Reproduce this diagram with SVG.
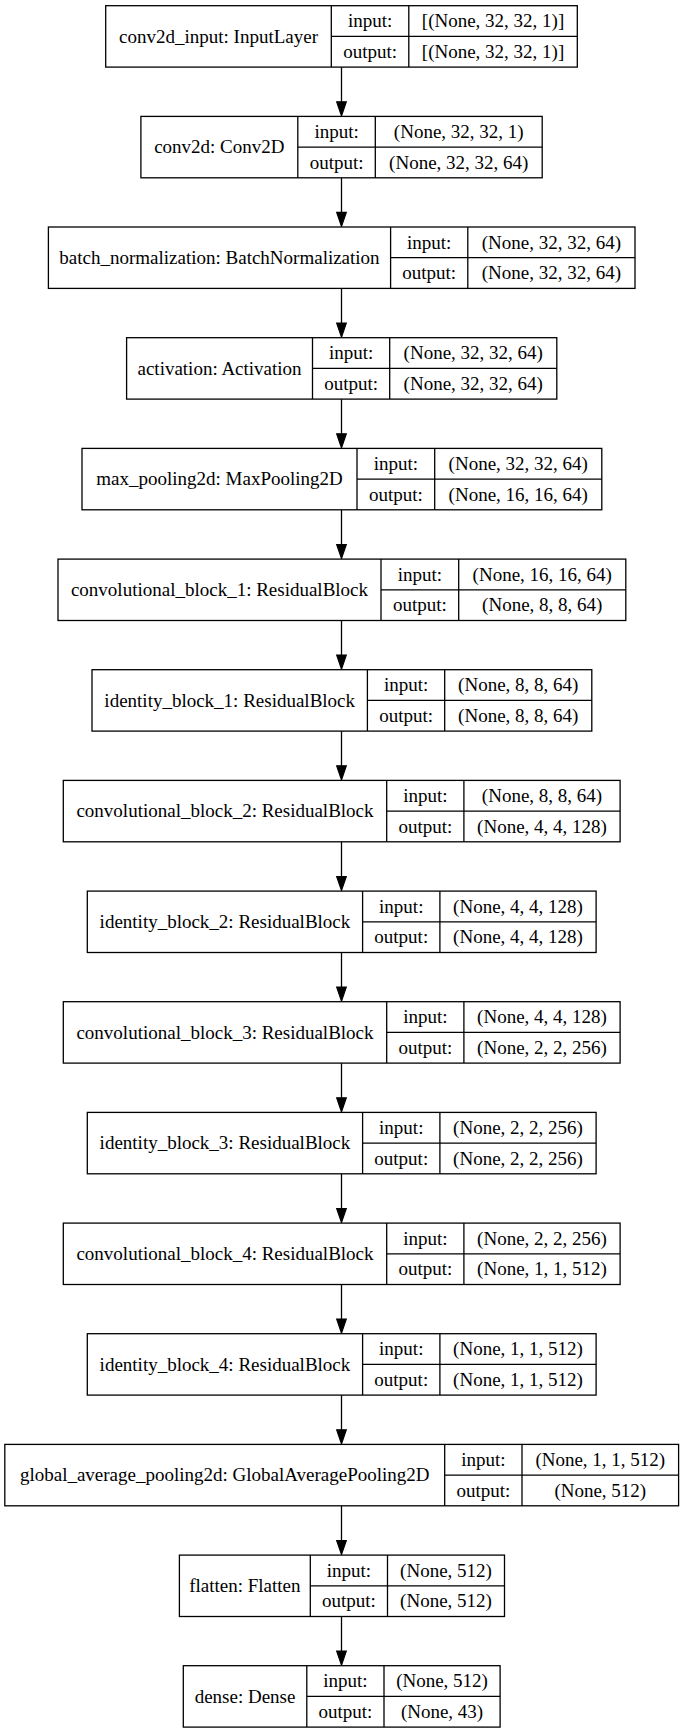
<svg xmlns="http://www.w3.org/2000/svg" width="683" height="1733" viewBox="0 0 683 1733">
<style>
  .box { fill: #ffffff; stroke: #000000; stroke-width: 1.3; }
  .sep { stroke: #000000; stroke-width: 1.3; fill: none; }
  text { font-family: "Liberation Serif", "Times New Roman", serif; font-size: 19px; fill: #000000; text-anchor: middle; }
  .edge { stroke: #000000; stroke-width: 1.3; fill: none; marker-end: url(#arr); }
</style>
<defs>
  <marker id="arr" markerUnits="userSpaceOnUse" markerWidth="16" markerHeight="12" refX="0" refY="4.8" orient="auto" overflow="visible">
    <path d="M0,0 L14,4.8 L0,9.6 Z" fill="#000000" stroke="#000000" stroke-width="1.2"/>
  </marker>
</defs>
<rect width="683" height="1733" fill="#ffffff"/>

<g id="connectors">
  <path class="edge" d="M341.5,67.1 V101.8"/>
  <path class="edge" d="M341.5,177.8 V212.4"/>
  <path class="edge" d="M341.5,288.4 V323.1"/>
  <path class="edge" d="M341.5,399.1 V433.8"/>
  <path class="edge" d="M341.5,509.8 V544.5"/>
  <path class="edge" d="M341.5,620.5 V655.1"/>
  <path class="edge" d="M341.5,731.1 V765.8"/>
  <path class="edge" d="M341.5,841.8 V876.5"/>
  <path class="edge" d="M341.5,952.5 V987.1"/>
  <path class="edge" d="M341.5,1063.1 V1097.8"/>
  <path class="edge" d="M341.5,1173.8 V1208.5"/>
  <path class="edge" d="M341.5,1284.5 V1319.1"/>
  <path class="edge" d="M341.5,1395.1 V1429.8"/>
  <path class="edge" d="M341.5,1505.8 V1540.5"/>
  <path class="edge" d="M341.5,1616.5 V1651.1"/>
</g>

<g id="conv2d_input" transform="translate(0,5.7)">
  <rect class="box" x="105.7" y="0" width="471.6" height="61.4"/>
  <path class="sep" d="M331.3,0 V61.4 M408.8,0 V61.4 M331.3,30.7 H577.3"/>
  <text x="218.5" y="36.9">conv2d_input: InputLayer</text>
  <text x="370.05" y="21.6">input:</text>
  <text x="370.05" y="52.3">output:</text>
  <text x="493.05" y="21.6">[(None, 32, 32, 1)]</text>
  <text x="493.05" y="52.3">[(None, 32, 32, 1)]</text>
</g>

<g id="conv2d" transform="translate(0,116.4)">
  <rect class="box" x="140.9" y="0" width="401.3" height="61.4"/>
  <path class="sep" d="M297.8,0 V61.4 M375.3,0 V61.4 M297.8,30.7 H542.2"/>
  <text x="219.35" y="36.9">conv2d: Conv2D</text>
  <text x="336.55" y="21.6">input:</text>
  <text x="336.55" y="52.3">output:</text>
  <text x="458.75" y="21.6">(None, 32, 32, 1)</text>
  <text x="458.75" y="52.3">(None, 32, 32, 64)</text>
</g>

<g id="batch_normalization" transform="translate(0,227.0)">
  <rect class="box" x="48.4" y="0" width="586.6" height="61.4"/>
  <path class="sep" d="M390.6,0 V61.4 M467.8,0 V61.4 M390.6,30.7 H635"/>
  <text x="219.5" y="36.9">batch_normalization: BatchNormalization</text>
  <text x="429.2" y="21.6">input:</text>
  <text x="429.2" y="52.3">output:</text>
  <text x="551.4" y="21.6">(None, 32, 32, 64)</text>
  <text x="551.4" y="52.3">(None, 32, 32, 64)</text>
</g>

<g id="activation" transform="translate(0,337.7)">
  <rect class="box" x="126.6" y="0" width="430.2" height="61.4"/>
  <path class="sep" d="M312.5,0 V61.4 M389.7,0 V61.4 M312.5,30.7 H556.8"/>
  <text x="219.55" y="36.9">activation: Activation</text>
  <text x="351.1" y="21.6">input:</text>
  <text x="351.1" y="52.3">output:</text>
  <text x="473.25" y="21.6">(None, 32, 32, 64)</text>
  <text x="473.25" y="52.3">(None, 32, 32, 64)</text>
</g>

<g id="max_pooling2d" transform="translate(0,448.4)">
  <rect class="box" x="82" y="0" width="519.8" height="61.4"/>
  <path class="sep" d="M357,0 V61.4 M434.7,0 V61.4 M357,30.7 H601.8"/>
  <text x="219.5" y="36.9">max_pooling2d: MaxPooling2D</text>
  <text x="395.85" y="21.6">input:</text>
  <text x="395.85" y="52.3">output:</text>
  <text x="518.25" y="21.6">(None, 32, 32, 64)</text>
  <text x="518.25" y="52.3">(None, 16, 16, 64)</text>
</g>

<g id="convolutional_block_1" transform="translate(0,559.1)">
  <rect class="box" x="58" y="0" width="567.8" height="61.4"/>
  <path class="sep" d="M381,0 V61.4 M458.7,0 V61.4 M381,30.7 H625.8"/>
  <text x="219.5" y="36.9">convolutional_block_1: ResidualBlock</text>
  <text x="419.85" y="21.6">input:</text>
  <text x="419.85" y="52.3">output:</text>
  <text x="542.25" y="21.6">(None, 16, 16, 64)</text>
  <text x="542.25" y="52.3">(None, 8, 8, 64)</text>
</g>

<g id="identity_block_1" transform="translate(0,669.7)">
  <rect class="box" x="92" y="0" width="499.8" height="61.4"/>
  <path class="sep" d="M367.4,0 V61.4 M444.7,0 V61.4 M367.4,30.7 H591.8"/>
  <text x="229.7" y="36.9">identity_block_1: ResidualBlock</text>
  <text x="406.05" y="21.6">input:</text>
  <text x="406.05" y="52.3">output:</text>
  <text x="518.25" y="21.6">(None, 8, 8, 64)</text>
  <text x="518.25" y="52.3">(None, 8, 8, 64)</text>
</g>

<g id="convolutional_block_2" transform="translate(0,780.4)">
  <rect class="box" x="63.3" y="0" width="556.8" height="61.4"/>
  <path class="sep" d="M386.7,0 V61.4 M463.9,0 V61.4 M386.7,30.7 H620.1"/>
  <text x="225" y="36.9">convolutional_block_2: ResidualBlock</text>
  <text x="425.3" y="21.6">input:</text>
  <text x="425.3" y="52.3">output:</text>
  <text x="542" y="21.6">(None, 8, 8, 64)</text>
  <text x="542" y="52.3">(None, 4, 4, 128)</text>
</g>

<g id="identity_block_2" transform="translate(0,891.1)">
  <rect class="box" x="87.3" y="0" width="508.8" height="61.4"/>
  <path class="sep" d="M362.6,0 V61.4 M439.9,0 V61.4 M362.6,30.7 H596.1"/>
  <text x="224.95" y="36.9">identity_block_2: ResidualBlock</text>
  <text x="401.25" y="21.6">input:</text>
  <text x="401.25" y="52.3">output:</text>
  <text x="518" y="21.6">(None, 4, 4, 128)</text>
  <text x="518" y="52.3">(None, 4, 4, 128)</text>
</g>

<g id="convolutional_block_3" transform="translate(0,1001.7)">
  <rect class="box" x="63.3" y="0" width="556.8" height="61.4"/>
  <path class="sep" d="M386.7,0 V61.4 M463.9,0 V61.4 M386.7,30.7 H620.1"/>
  <text x="225" y="36.9">convolutional_block_3: ResidualBlock</text>
  <text x="425.3" y="21.6">input:</text>
  <text x="425.3" y="52.3">output:</text>
  <text x="542" y="21.6">(None, 4, 4, 128)</text>
  <text x="542" y="52.3">(None, 2, 2, 256)</text>
</g>

<g id="identity_block_3" transform="translate(0,1112.4)">
  <rect class="box" x="87.3" y="0" width="508.8" height="61.4"/>
  <path class="sep" d="M362.6,0 V61.4 M439.9,0 V61.4 M362.6,30.7 H596.1"/>
  <text x="224.95" y="36.9">identity_block_3: ResidualBlock</text>
  <text x="401.25" y="21.6">input:</text>
  <text x="401.25" y="52.3">output:</text>
  <text x="518" y="21.6">(None, 2, 2, 256)</text>
  <text x="518" y="52.3">(None, 2, 2, 256)</text>
</g>

<g id="convolutional_block_4" transform="translate(0,1223.1)">
  <rect class="box" x="63.3" y="0" width="556.8" height="61.4"/>
  <path class="sep" d="M386.7,0 V61.4 M463.9,0 V61.4 M386.7,30.7 H620.1"/>
  <text x="225" y="36.9">convolutional_block_4: ResidualBlock</text>
  <text x="425.3" y="21.6">input:</text>
  <text x="425.3" y="52.3">output:</text>
  <text x="542" y="21.6">(None, 2, 2, 256)</text>
  <text x="542" y="52.3">(None, 1, 1, 512)</text>
</g>

<g id="identity_block_4" transform="translate(0,1333.7)">
  <rect class="box" x="87.3" y="0" width="508.8" height="61.4"/>
  <path class="sep" d="M362.6,0 V61.4 M439.9,0 V61.4 M362.6,30.7 H596.1"/>
  <text x="224.95" y="36.9">identity_block_4: ResidualBlock</text>
  <text x="401.25" y="21.6">input:</text>
  <text x="401.25" y="52.3">output:</text>
  <text x="518" y="21.6">(None, 1, 1, 512)</text>
  <text x="518" y="52.3">(None, 1, 1, 512)</text>
</g>

<g id="global_average_pooling2d" transform="translate(0,1444.4)">
  <rect class="box" x="4.8" y="0" width="673.8" height="61.4"/>
  <path class="sep" d="M444.7,0 V61.4 M522,0 V61.4 M444.7,30.7 H678.6"/>
  <text x="224.75" y="36.9">global_average_pooling2d: GlobalAveragePooling2D</text>
  <text x="483.35" y="21.6">input:</text>
  <text x="483.35" y="52.3">output:</text>
  <text x="600.3" y="21.6">(None, 1, 1, 512)</text>
  <text x="600.3" y="52.3">(None, 512)</text>
</g>

<g id="flatten" transform="translate(0,1555.1)">
  <rect class="box" x="179.4" y="0" width="325.1" height="61.4"/>
  <path class="sep" d="M310.3,0 V61.4 M387.5,0 V61.4 M310.3,30.7 H504.5"/>
  <text x="244.85" y="36.9">flatten: Flatten</text>
  <text x="348.9" y="21.6">input:</text>
  <text x="348.9" y="52.3">output:</text>
  <text x="446" y="21.6">(None, 512)</text>
  <text x="446" y="52.3">(None, 512)</text>
</g>

<g id="dense" transform="translate(0,1665.7)">
  <rect class="box" x="183.3" y="0" width="316.8" height="61.4"/>
  <path class="sep" d="M306.8,0 V61.4 M384,0 V61.4 M306.8,30.7 H500.1"/>
  <text x="245.05" y="36.9">dense: Dense</text>
  <text x="345.4" y="21.6">input:</text>
  <text x="345.4" y="52.3">output:</text>
  <text x="442.05" y="21.6">(None, 512)</text>
  <text x="442.05" y="52.3">(None, 43)</text>
</g>
</svg>
